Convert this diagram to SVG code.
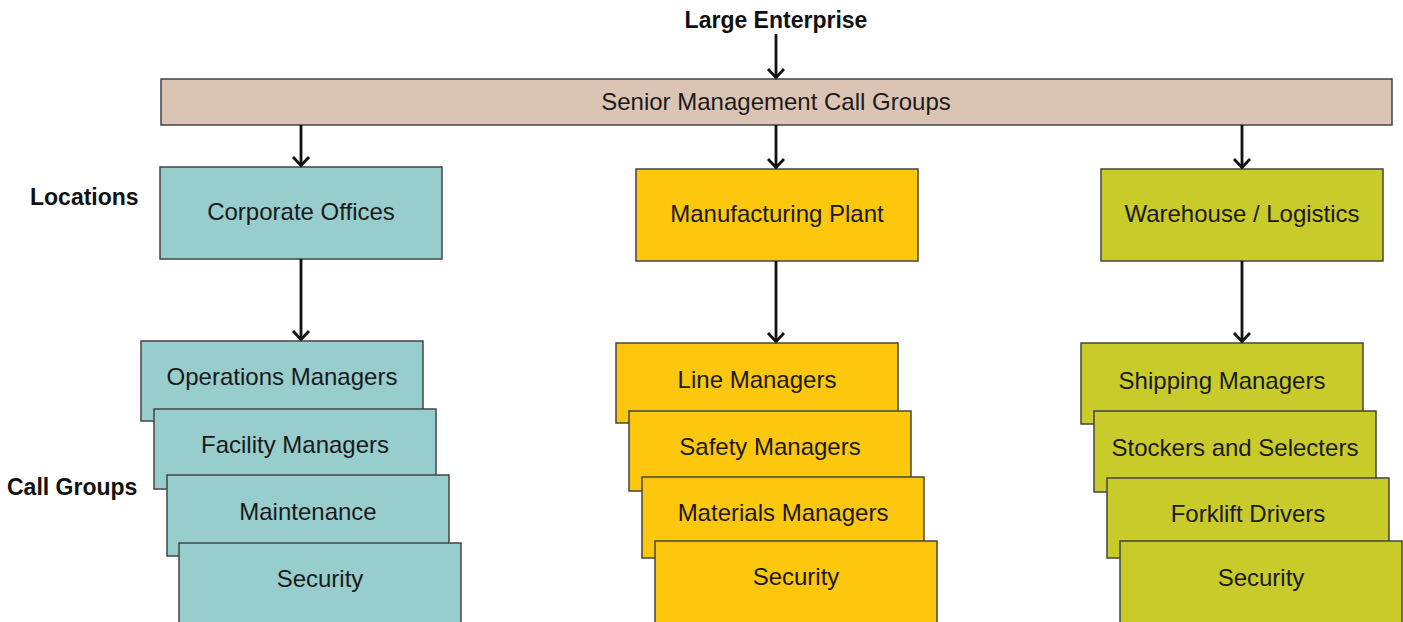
<svg xmlns="http://www.w3.org/2000/svg" width="1403" height="622" viewBox="0 0 1403 622">
<defs>
<marker id="ah" viewBox="-12 -12 16 24" markerUnits="userSpaceOnUse" markerWidth="16" markerHeight="24" refX="0" refY="0" orient="auto" overflow="visible">
<path d="M-9,-8 L-0.5,0 L-9,8" fill="none" stroke="#111" stroke-width="2.8"/>
</marker>
</defs>
<style>
.box{stroke:#444;stroke-width:1.5}
.teal{fill:#97cdcc}
.gold{fill:#fcc70c}
.olive{fill:#c9cb2b}
.bar{fill:#dcc4b5}
.t{font-family:"Liberation Sans",Arial,sans-serif;font-size:24px;fill:#1a1a1a;text-anchor:middle}
.lbl{font-family:"Liberation Sans",Arial,sans-serif;font-size:23px;font-weight:bold;fill:#111}
.c{stroke:#111;stroke-width:2.8;fill:none}
</style>
<rect width="1403" height="622" fill="#fff"/>
<g id="labels">
<text class="lbl" x="776" y="28" text-anchor="middle">Large Enterprise</text>
<text class="lbl" x="30" y="205">Locations</text>
<text class="lbl" x="7" y="495">Call Groups</text>
</g>
<g id="senior">
<rect class="box bar" x="161" y="79" width="1231" height="46"/>
<text class="t" x="776" y="110">Senior Management Call Groups</text>
</g>
<g id="corporate">
<rect class="box teal" x="160" y="167" width="282" height="92"/>
<text class="t" x="301" y="220">Corporate Offices</text>
</g>
<g id="manufacturing">
<rect class="box gold" x="636" y="169" width="282" height="92"/>
<text class="t" x="777" y="222">Manufacturing Plant</text>
</g>
<g id="warehouse">
<rect class="box olive" x="1101" y="169" width="282" height="92"/>
<text class="t" x="1242" y="222">Warehouse / Logistics</text>
</g>
<g id="corp-ops">
<rect class="box teal" x="141" y="341" width="282" height="80"/>
<text class="t" x="282" y="385">Operations Managers</text>
</g>
<g id="corp-facility">
<rect class="box teal" x="154" y="409" width="282" height="80"/>
<text class="t" x="295" y="453">Facility Managers</text>
</g>
<g id="corp-maint">
<rect class="box teal" x="167" y="475" width="282" height="81"/>
<text class="t" x="308" y="520">Maintenance</text>
</g>
<g id="corp-sec">
<rect class="box teal" x="179" y="543" width="282" height="82"/>
<text class="t" x="320" y="587">Security</text>
</g>
<g id="mfg-line">
<rect class="box gold" x="616" y="343" width="282" height="80"/>
<text class="t" x="757" y="388">Line Managers</text>
</g>
<g id="mfg-safety">
<rect class="box gold" x="629" y="411" width="282" height="80"/>
<text class="t" x="770" y="455">Safety Managers</text>
</g>
<g id="mfg-materials">
<rect class="box gold" x="642" y="477" width="282" height="81"/>
<text class="t" x="783" y="521">Materials Managers</text>
</g>
<g id="mfg-sec">
<rect class="box gold" x="655" y="541" width="282" height="84"/>
<text class="t" x="796" y="585">Security</text>
</g>
<g id="wh-shipping">
<rect class="box olive" x="1081" y="343" width="282" height="81"/>
<text class="t" x="1222" y="389">Shipping Managers</text>
</g>
<g id="wh-stockers">
<rect class="box olive" x="1094" y="411" width="282" height="81"/>
<text class="t" x="1235" y="456">Stockers and Selecters</text>
</g>
<g id="wh-forklift">
<rect class="box olive" x="1107" y="478" width="282" height="80"/>
<text class="t" x="1248" y="522">Forklift Drivers</text>
</g>
<g id="wh-sec">
<rect class="box olive" x="1120" y="541" width="282" height="84"/>
<text class="t" x="1261" y="586">Security</text>
</g>
<g id="connectors">
<line class="c" x1="776" y1="34" x2="776" y2="78" marker-end="url(#ah)"/>
<line class="c" x1="301" y1="125" x2="301" y2="166" marker-end="url(#ah)"/>
<line class="c" x1="776" y1="125" x2="776" y2="168" marker-end="url(#ah)"/>
<line class="c" x1="1242" y1="125" x2="1242" y2="168" marker-end="url(#ah)"/>
<line class="c" x1="301" y1="259" x2="301" y2="340" marker-end="url(#ah)"/>
<line class="c" x1="776" y1="261" x2="776" y2="342" marker-end="url(#ah)"/>
<line class="c" x1="1242" y1="261" x2="1242" y2="342" marker-end="url(#ah)"/>
</g>
</svg>
